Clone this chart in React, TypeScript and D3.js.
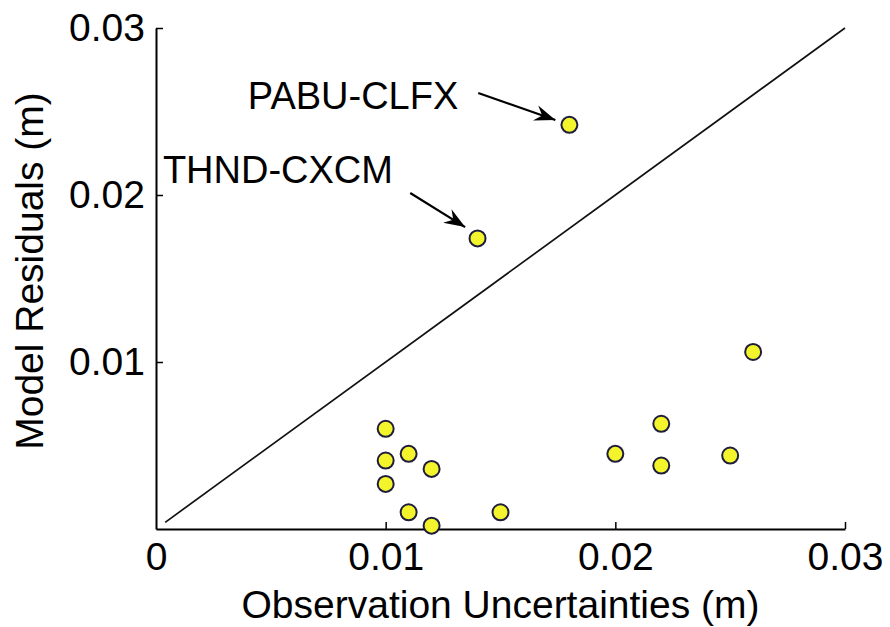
import React, { useEffect, useRef } from 'react';
import * as d3 from 'd3';

// observation uncertainty (x) vs model residual (y), metres
const obsUncertainty = [0.010, 0.010, 0.010, 0.011, 0.012, 0.011, 0.012, 0.015, 0.020, 0.022, 0.022, 0.025, 0.026, 0.018, 0.014];
const modelResidual = [0.0060, 0.0041, 0.0027, 0.0045, 0.0036, 0.0010, 0.0002, 0.0010, 0.0045, 0.0063, 0.0038, 0.0044, 0.0106, 0.0242, 0.0174];

const xTicks = [0, 0.01, 0.02, 0.03];
const yTicks = [0.01, 0.02, 0.03];

// 1:1 reference line ends
const refLine = [0.0004, 0.03];

// annotation labels, text anchor and arrow tail/head in data units
const annoLabels = ['PABU-CLFX', 'THND-CXCM'];
const annoText = [[0.0040, 0.02515], [0.0003, 0.02072]];
const annoTail = [[0.01403, 0.02611], [0.01107, 0.02012]];
const annoHead = [[0.01739, 0.02449], [0.01346, 0.01808]];

const W = 890, H = 627;
const FONT = '"Liberation Sans", Arial, Helvetica, sans-serif';

export default function App() {
  const ref = useRef<SVGSVGElement>(null);

  useEffect(() => {
    const svg = d3.select(ref.current);
    svg.selectAll('*').remove();

    const x = d3.scaleLinear().domain([0, 0.03]).range([156, 845]);
    const y = d3.scaleLinear().domain([0, 0.03]).range([529, 28]);

    const fmt = (d: any) => (d === 0 ? '0' : d3.format('.2f')(d));

    // arrow head
    svg.append('defs').append('marker')
      .attr('id', 'arrowhead')
      .attr('markerUnits', 'userSpaceOnUse')
      .attr('viewBox', '-22 -10 24 20')
      .attr('refX', 0).attr('refY', 0)
      .attr('markerWidth', 24).attr('markerHeight', 20)
      .attr('orient', 'auto')
      .append('path')
      .attr('d', 'M0,0 L-21,-8 L-14,0 L-21,8 Z')
      .attr('fill', '#000');

    // x axis
    const xAxis = svg.append('g')
      .attr('transform', 'translate(0,' + y(0) + ')')
      .call(d3.axisBottom(x).tickValues(xTicks).tickFormat(fmt).tickSizeInner(-7).tickSizeOuter(0).tickPadding(13));

    // y axis
    const yAxis = svg.append('g')
      .attr('transform', 'translate(' + x(0) + ',0)')
      .call(d3.axisLeft(y).tickValues(yTicks).tickFormat(fmt).tickSizeInner(-7).tickSizeOuter(0).tickPadding(11));

    [xAxis, yAxis].forEach(a => {
      a.select('.domain').attr('stroke', '#000').attr('stroke-width', 2);
      a.selectAll('.tick line').attr('stroke', '#000').attr('stroke-width', 1.5);
      a.selectAll('.tick text')
        .attr('fill', '#000')
        .style('font-family', FONT)
        .style('font-size', '39px');
    });
    // no tick mark at x = 0 (it sits on the y axis)
    xAxis.selectAll('.tick').filter((d: any) => d === 0).select('line').remove();

    // 1:1 line
    svg.append('path')
      .attr('d', d3.line()(refLine.map(v => [x(v), y(v)] as [number, number])))
      .attr('stroke', '#111')
      .attr('stroke-width', 1.7)
      .attr('fill', 'none');

    // points
    svg.selectAll('circle.pt')
      .data(obsUncertainty)
      .enter()
      .append('circle')
      .attr('class', 'pt')
      .attr('cx', d => x(d))
      .attr('cy', (d, i) => y(modelResidual[i]))
      .attr('r', 8)
      .attr('fill', '#f4f42c')
      .attr('stroke', '#1e1e3c')
      .attr('stroke-width', 2);

    // annotations
    annoLabels.forEach((lab, i) => {
      svg.append('text')
        .attr('x', x(annoText[i][0]))
        .attr('y', y(annoText[i][1]))
        .attr('fill', '#000')
        .style('font-family', FONT)
        .style('font-size', '38px')
        .text(lab);
      svg.append('line')
        .attr('x1', x(annoTail[i][0])).attr('y1', y(annoTail[i][1]))
        .attr('x2', x(annoHead[i][0])).attr('y2', y(annoHead[i][1]))
        .attr('stroke', '#000')
        .attr('stroke-width', 2.2)
        .attr('marker-end', 'url(#arrowhead)');
    });

    // axis titles
    svg.append('text')
      .attr('x', (x(0) + x(0.03)) / 2)
      .attr('y', 618)
      .attr('text-anchor', 'middle')
      .attr('fill', '#000')
      .style('font-family', FONT)
      .style('font-size', '39px')
      .text('Observation Uncertainties (m)');

    svg.append('text')
      .attr('transform', 'translate(43,' + 271 + ') rotate(-90)')
      .attr('text-anchor', 'middle')
      .attr('fill', '#000')
      .style('font-family', FONT)
      .style('font-size', '39px')
      .text('Model Residuals (m)');
  }, []);

  return (
    <svg
      ref={ref}
      width={W}
      height={H}
      style={{ position: 'absolute', left: 0, top: 0, background: '#fff' }}
    />
  );
}
